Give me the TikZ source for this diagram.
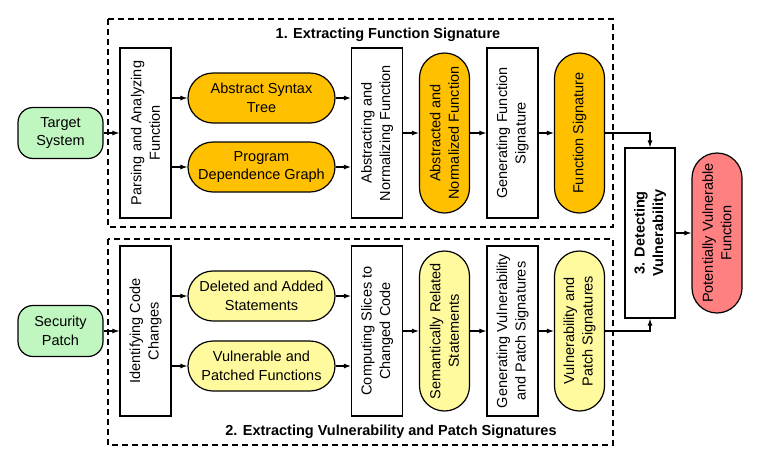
\documentclass[tikz,border=0pt]{standalone}
\usepackage{fontspec}
\setmainfont{Liberation Sans}
\usetikzlibrary{arrows.meta}
\definecolor{inputgreen}{HTML}{C0F7C0}
\definecolor{sigorange}{HTML}{FFC000}
\definecolor{patchyellow}{HTML}{FFFA9E}
\definecolor{resultred}{HTML}{FF8080}
\begin{document}
\begin{tikzpicture}[x=1pt,y=-1pt,
    every node/.style={font=\fontsize{14.5}{18.5}\selectfont, align=center, inner sep=2pt},
    input/.style={draw, line width=1.2pt, rounded corners=15pt, fill=inputgreen,
      minimum width=85pt, minimum height=51pt},
    proc/.style={draw, line width=1.2pt, fill=white, rotate=90,
      minimum width=170pt, minimum height=51pt},
    datah/.style={draw, line width=1.2pt, rounded corners=25pt,
      minimum width=147pt, minimum height=50pt},
    datav/.style={datah, rotate=90, minimum width=160pt},
    stage/.style={line width=1.2pt, dash pattern=on 6pt off 4pt},
    title/.style={font=\fontsize{14.5}{18.5}\selectfont\bfseries},
    >={Latex[length=7pt,width=5pt]}]
  \useasboundingbox (0,0) rectangle (780,464);
  \draw[stage] (108,19) rectangle (613,227);
  \draw[stage] (108,239) rectangle (613,445);
  \node[title] (t1) at (388,35) {1. Extracting Function Signature};
  \node[title] (t2) at (391,432) {2. Extracting Vulnerability and Patch Signatures};

  \node[input] (ts) at (60.5,133) {Target\\System};
  \node[proc] (parse) at (145.5,133) {Parsing and Analyzing\\Function};
  \node[datah, fill=sigorange] (ast) at (261.5,98) {Abstract Syntax\\Tree};
  \node[datah, fill=sigorange] (pdg) at (261.5,167) {Program\\Dependence Graph};
  \node[proc] (abs) at (377,133) {Abstracting and\\Normalizing Function};
  \node[datav, fill=sigorange] (absfn) at (444.5,133) {Abstracted and\\Normalized Function};
  \node[proc] (gen) at (512.5,133) {Generating Function\\Signature};
  \node[datav, fill=sigorange] (fsig) at (579.5,133) {Function Signature};

  \node[input] (sp) at (60.5,331) {Security\\Patch};
  \node[proc] (ident) at (145.5,331) {Identifying Code\\Changes};
  \node[datah, fill=patchyellow] (del) at (261.5,296) {Deleted and Added\\Statements};
  \node[datah, fill=patchyellow] (vul) at (261.5,366) {Vulnerable and\\Patched Functions};
  \node[proc] (slice) at (377,331) {Computing Slices to\\Changed Code};
  \node[datav, fill=patchyellow] (sem) at (444.5,331) {Semantically Related\\Statements};
  \node[proc] (genv) at (512.5,331) {Generating Vulnerability\\and Patch Signatures};
  \node[datav, fill=patchyellow] (vps) at (579.5,331) {Vulnerability and\\Patch Signatures};

  \node[proc, minimum height=50pt, font=\fontsize{14.5}{18.5}\selectfont\bfseries] (detect) at (650,233) {3. Detecting\\Vulnerability};
  \node[datav, fill=resultred] (pvf) at (717,233) {Potentially Vulnerable\\Function};

  \begin{scope}[->, line width=1.1pt]
    \draw (ts.east) to (parse.north);
    \draw (parse.south |- ast.west) to (ast.west);
    \draw (parse.south |- pdg.west) to (pdg.west);
    \draw (ast.east) to (ast.east -| abs.north);
    \draw (pdg.east) to (pdg.east -| abs.north);
    \draw (abs.south) to (absfn.north);
    \draw (absfn.south) to (gen.north);
    \draw (gen.south) to (fsig.north);
    \draw (fsig.south) -| (detect.east);
    \draw (sp.east) to (ident.north);
    \draw (ident.south |- del.west) to (del.west);
    \draw (ident.south |- vul.west) to (vul.west);
    \draw (del.east) to (del.east -| slice.north);
    \draw (vul.east) to (vul.east -| slice.north);
    \draw (slice.south) to (sem.north);
    \draw (sem.south) to (genv.north);
    \draw (genv.south) to (vps.north);
    \draw (vps.south) -| (detect.west);
    \draw (detect.south) to (pvf.north);
  \end{scope}
\end{tikzpicture}
\end{document}
